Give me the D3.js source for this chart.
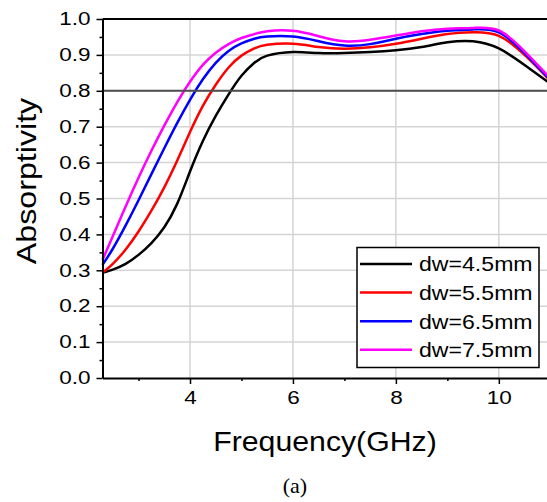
<!doctype html>
<html lang="en">
<head>
<meta charset="UTF-8">
<title>absorptivity</title>
<script src="https://d3js.org/d3.v7.min.js"></script>
<style>
  body { margin: 0; background: #fff; }
  text { font-family: "Liberation Sans", Arial, sans-serif; fill: #000; }
</style>
</head>
<body>
<script>
  // frequency samples (GHz)
  var freq = [2.3, 2.5, 2.75, 3.0, 3.25, 3.5, 3.75, 4.0, 4.25, 4.5, 4.75, 5.0, 5.25, 5.5,
              6.0, 6.5, 7.0, 7.5, 8.0, 8.5, 9.0, 9.5, 10.0, 10.5, 11.0];
  // absorptivity
  var dw45 = [0.293, 0.302, 0.318, 0.343, 0.376, 0.42, 0.485, 0.575, 0.66, 0.73, 0.79, 0.842, 0.878, 0.898,
              0.908, 0.905, 0.905, 0.908, 0.913, 0.922, 0.935, 0.938, 0.918, 0.872, 0.82];
  var dw55 = [0.293, 0.318, 0.358, 0.408, 0.466, 0.531, 0.605, 0.685, 0.758, 0.817, 0.865, 0.898, 0.918, 0.928,
              0.931, 0.922, 0.917, 0.921, 0.931, 0.945, 0.958, 0.963, 0.953, 0.9, 0.828];
  var dw65 = [0.315, 0.36, 0.425, 0.495, 0.568, 0.64, 0.71, 0.775, 0.832, 0.878, 0.911, 0.932, 0.945, 0.951,
              0.951, 0.938, 0.926, 0.93, 0.945, 0.958, 0.967, 0.971, 0.963, 0.905, 0.83];
  var dw75 = [0.329, 0.395, 0.478, 0.558, 0.633, 0.703, 0.768, 0.825, 0.872, 0.906, 0.93, 0.947, 0.958, 0.966,
              0.967, 0.952, 0.938, 0.942, 0.954, 0.966, 0.973, 0.975, 0.968, 0.91, 0.835];

  var labels = ["dw=4.5mm", "dw=5.5mm", "dw=6.5mm", "dw=7.5mm"];
  var colors = ["#000000", "#ff0000", "#0000ff", "#ff00ff"];
  var series = [dw45, dw55, dw65, dw75];

  var xMajor = [4, 6, 8, 10];
  var xMinor = [3, 5, 7, 9];
  var yMajor = [0, 0.1, 0.2, 0.3, 0.4, 0.5, 0.6, 0.7, 0.8, 0.9, 1.0];
  var yMinor = [0.05, 0.15, 0.25, 0.35, 0.45, 0.55, 0.65, 0.75, 0.85, 0.95];
  var refLevel = 0.8;

  var width = 547, height = 502;

  var svg = d3.select("body").append("svg")
      .attr("width", width)
      .attr("height", height);

  var x = d3.scaleLinear().domain([2.3, 11]).range([102.5, 550.3]);
  var y = d3.scaleLinear().domain([0, 1]).range([378, 19]);

  // stretch text a bit, the original font renders wider than Arial
  function widen(sel, k) {
    sel.each(function() {
      var w = this.getComputedTextLength();
      d3.select(this).attr("textLength", w * k).attr("lengthAdjust", "spacingAndGlyphs");
    });
  }

  // grid
  svg.append("g").selectAll("line")
      .data(xMajor).enter().append("line")
      .attr("x1", function(d) { return x(d); })
      .attr("x2", function(d) { return x(d); })
      .attr("y1", y(0)).attr("y2", y(1))
      .attr("stroke", "#d4d4d4").attr("stroke-width", 1.5);

  svg.append("g").selectAll("line")
      .data(yMajor.filter(function(d) { return d > 0 && d < 1; })).enter().append("line")
      .attr("x1", x(2.3)).attr("x2", width)
      .attr("y1", function(d) { return y(d); })
      .attr("y2", function(d) { return y(d); })
      .attr("stroke", "#d4d4d4").attr("stroke-width", 1.5);

  // curves
  var line = d3.line()
      .x(function(d, i) { return x(freq[i]); })
      .y(function(d) { return y(d); })
      .curve(d3.curveNatural);

  svg.append("g").selectAll("path")
      .data(series).enter().append("path")
      .attr("d", line)
      .attr("fill", "none")
      .attr("stroke", function(d, i) { return colors[i]; })
      .attr("stroke-width", 2.5);

  // 0.8 reference line
  svg.append("line")
      .attr("x1", x(2.3)).attr("x2", width)
      .attr("y1", y(refLevel)).attr("y2", y(refLevel))
      .attr("stroke", "#4d4d4d").attr("stroke-width", 2);

  // top frame
  svg.append("line")
      .attr("x1", x(2.3)).attr("x2", width)
      .attr("y1", y(1)).attr("y2", y(1))
      .attr("stroke", "#000").attr("stroke-width", 2);

  // axes
  var gx = svg.append("g").attr("transform", "translate(0," + y(0) + ")");
  gx.call(d3.axisBottom(x).tickValues(xMajor).tickSize(6).tickSizeOuter(0).tickPadding(7).tickFormat(d3.format("d")));
  gx.append("g").call(d3.axisBottom(x).tickValues(xMinor).tickSize(3).tickSizeOuter(0).tickFormat(""))
      .select(".domain").remove();

  var gy = svg.append("g").attr("transform", "translate(" + x(2.3) + ",0)");
  gy.call(d3.axisLeft(y).tickValues(yMajor).tickSize(6).tickSizeOuter(0).tickPadding(6).tickFormat(d3.format(".1f")));
  gy.append("g").call(d3.axisLeft(y).tickValues(yMinor).tickSize(3).tickSizeOuter(0).tickFormat(""))
      .select(".domain").remove();

  svg.selectAll(".domain").attr("stroke", "#000").attr("stroke-width", 2);
  svg.selectAll(".tick line").attr("stroke", "#000").attr("stroke-width", 1.5);
  svg.selectAll(".tick text").attr("font-size", 18).attr("font-family", "Liberation Sans, Arial, sans-serif");
  widen(svg.selectAll(".tick text"), 1.25);

  // axis titles
  var xt = svg.append("text")
      .attr("x", 325).attr("y", 451)
      .attr("text-anchor", "middle")
      .attr("font-size", 28)
      .text("Frequency(GHz)");
  widen(xt, 1.08);

  var yt = svg.append("text")
      .attr("transform", "translate(36,181) rotate(-90)")
      .attr("text-anchor", "middle")
      .attr("font-size", 28)
      .text("Absorptivity");
  widen(yt, 1.15);

  svg.append("text")
      .attr("x", 295).attr("y", 493)
      .attr("text-anchor", "middle")
      .attr("font-size", 22)
      .style("font-family", "Liberation Serif, Times New Roman, serif")
      .text("(a)");

  // legend
  var lg = svg.append("g").attr("transform", "translate(357,247.5)");
  lg.append("rect")
      .attr("width", 182).attr("height", 120)
      .attr("fill", "#fff").attr("stroke", "#000").attr("stroke-width", 1.5);

  var item = lg.selectAll(".item")
      .data(labels).enter().append("g")
      .attr("transform", function(d, i) { return "translate(0," + (16.5 + i * 28.6) + ")"; });
  item.append("line")
      .attr("x1", 3).attr("x2", 55)
      .attr("stroke", function(d, i) { return colors[i]; })
      .attr("stroke-width", 2.5);
  var lt = item.append("text")
      .attr("x", 62).attr("dy", "0.35em")
      .attr("font-size", 21)
      .text(function(d) { return d; });
  widen(lt, 1.1);
</script>
</body>
</html>
